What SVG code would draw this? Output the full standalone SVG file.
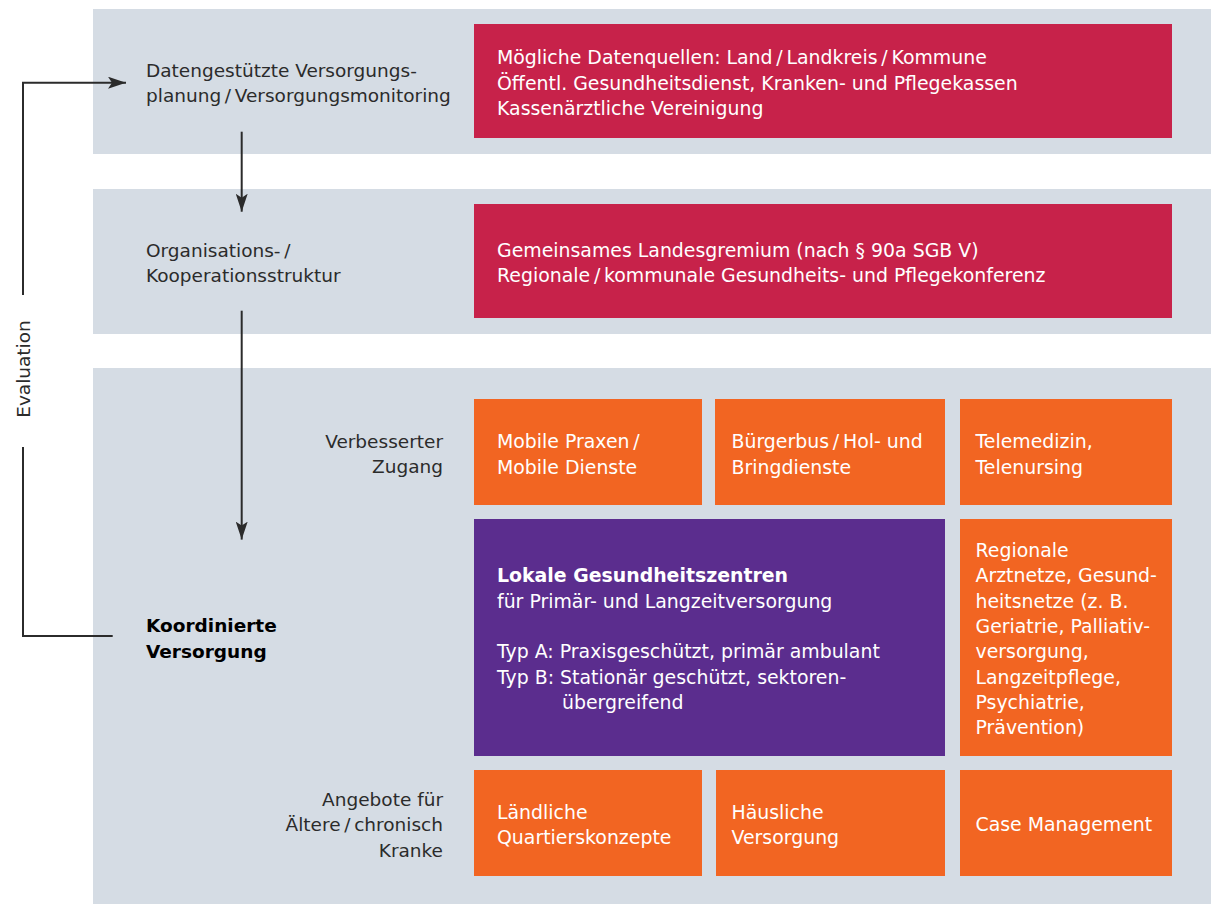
<svg xmlns="http://www.w3.org/2000/svg" width="1211" height="904" viewBox="0 0 1211 904">
<style>
.band{fill:#d5dce4}
.red{fill:#c7224a}
.org{fill:#f26522}
.pur{fill:#5b2d8e}
.t{font-family:"DejaVu Sans","Liberation Sans",sans-serif;font-size:18.5px}
.lab{fill:#2b2b2b}
.w{fill:#ffffff;font-size:18.9px}
.b{font-weight:bold;fill:#000}
.r{text-anchor:end}
.con{fill:none;stroke:#2b2b2b;stroke-width:2}
</style>
<defs>
<marker id="ah" viewBox="0 0 18 12" refX="18" refY="6" markerWidth="18" markerHeight="12" markerUnits="userSpaceOnUse" orient="auto">
<path d="M0,0 L18,6 L0,12 L4,6 z" fill="#2b2b2b"/>
</marker>
</defs>
<g id="bands">
<rect class="band" x="93" y="9" width="1118" height="145"/>
<rect class="band" x="93" y="189" width="1118" height="145"/>
<rect class="band" x="93" y="368" width="1118" height="536"/>
</g>
<g id="label-planung">
<text class="t lab" x="146" y="77">Datengestützte Versorgungs-</text>
<text class="t lab" x="146" y="102">planung&#8201;/&#8201;Versorgungsmonitoring</text>
</g>
<g id="label-organisation">
<text class="t lab" x="146" y="257">Organisations-&#8201;/</text>
<text class="t lab" x="146" y="282">Kooperationsstruktur</text>
</g>
<g id="label-koordiniert">
<text class="t b" x="146" y="632">Koordinierte</text>
<text class="t b" x="146" y="658">Versorgung</text>
</g>
<g id="label-zugang">
<text class="t lab r" x="443" y="448">Verbesserter</text>
<text class="t lab r" x="443" y="473">Zugang</text>
</g>
<g id="label-angebote">
<text class="t lab r" x="443" y="806">Angebote für</text>
<text class="t lab r" x="443" y="831">Ältere&#8201;/&#8201;chronisch</text>
<text class="t lab r" x="443" y="857">Kranke</text>
</g>
<g id="label-evaluation">
<text class="t lab" transform="translate(30,369) rotate(-90)" text-anchor="middle">Evaluation</text>
</g>
<g id="datenquellen">
<rect class="red" x="474" y="24" width="698" height="114"/>
<text class="t w" x="497" y="64">Mögliche Datenquellen: Land&#8201;/&#8201;Landkreis&#8201;/&#8201;Kommune</text>
<text class="t w" x="497" y="89.5">Öffentl. Gesundheitsdienst, Kranken- und Pflegekassen</text>
<text class="t w" x="497" y="115">Kassenärztliche Vereinigung</text>
</g>
<g id="gremium">
<rect class="red" x="474" y="204" width="698" height="114"/>
<text class="t w" x="497" y="256.5">Gemeinsames Landesgremium (nach § 90a SGB V)</text>
<text class="t w" x="497" y="282">Regionale&#8201;/&#8201;kommunale Gesundheits- und Pflegekonferenz</text>
</g>
<g id="mobile">
<rect class="org" x="474" y="399" width="228" height="106"/>
<text class="t w" x="497" y="448">Mobile Praxen&#8201;/</text>
<text class="t w" x="497" y="473.5">Mobile Dienste</text>
</g>
<g id="buergerbus">
<rect class="org" x="715" y="399" width="230" height="106"/>
<text class="t w" x="731.5" y="448">Bürgerbus&#8201;/&#8201;Hol- und</text>
<text class="t w" x="731.5" y="473.5">Bringdienste</text>
</g>
<g id="telemedizin">
<rect class="org" x="960" y="399" width="212" height="106"/>
<text class="t w" x="975.5" y="448">Telemedizin,</text>
<text class="t w" x="975.5" y="473.5">Telenursing</text>
</g>
<g id="gesundheitszentren">
<rect class="pur" x="474" y="519" width="471" height="237"/>
<text class="t w" x="497" y="582" font-weight="bold">Lokale Gesundheitszentren</text>
<text class="t w" x="497" y="607.5">für Primär- und Langzeitversorgung</text>
<text class="t w" x="497" y="658">Typ A: Praxisgeschützt, primär ambulant</text>
<text class="t w" x="497" y="683.5">Typ B: Stationär geschützt, sektoren-</text>
<text class="t w" x="562" y="709">übergreifend</text>
</g>
<g id="arztnetze">
<rect class="org" x="960" y="519" width="212" height="237"/>
<text class="t w" x="975.5" y="557">Regionale</text>
<text class="t w" x="975.5" y="582.3">Arztnetze, Gesund-</text>
<text class="t w" x="975.5" y="607.6">heitsnetze (z. B.</text>
<text class="t w" x="975.5" y="632.9">Geriatrie, Palliativ-</text>
<text class="t w" x="975.5" y="658.2">versorgung,</text>
<text class="t w" x="975.5" y="683.5">Langzeitpflege,</text>
<text class="t w" x="975.5" y="708.8">Psychiatrie,</text>
<text class="t w" x="975.5" y="734">Prävention)</text>
</g>
<g id="quartier">
<rect class="org" x="474" y="770" width="228" height="106"/>
<text class="t w" x="497" y="818.5">Ländliche</text>
<text class="t w" x="497" y="844">Quartierskonzepte</text>
</g>
<g id="haeuslich">
<rect class="org" x="716" y="770" width="229" height="106"/>
<text class="t w" x="731.5" y="818.5">Häusliche</text>
<text class="t w" x="731.5" y="844">Versorgung</text>
</g>
<g id="casemanagement">
<rect class="org" x="960" y="770" width="212" height="106"/>
<text class="t w" x="975.5" y="831">Case Management</text>
</g>
<g id="connectors">
<path class="con" d="M241.7,131.7 V211.7" marker-end="url(#ah)"/>
<path class="con" d="M241.7,310.7 V539.6" marker-end="url(#ah)"/>
<path class="con" d="M112.7,636 H23 V447"/>
<path class="con" d="M23,295 V82.7 H126" marker-end="url(#ah)"/>
</g>
</svg>
